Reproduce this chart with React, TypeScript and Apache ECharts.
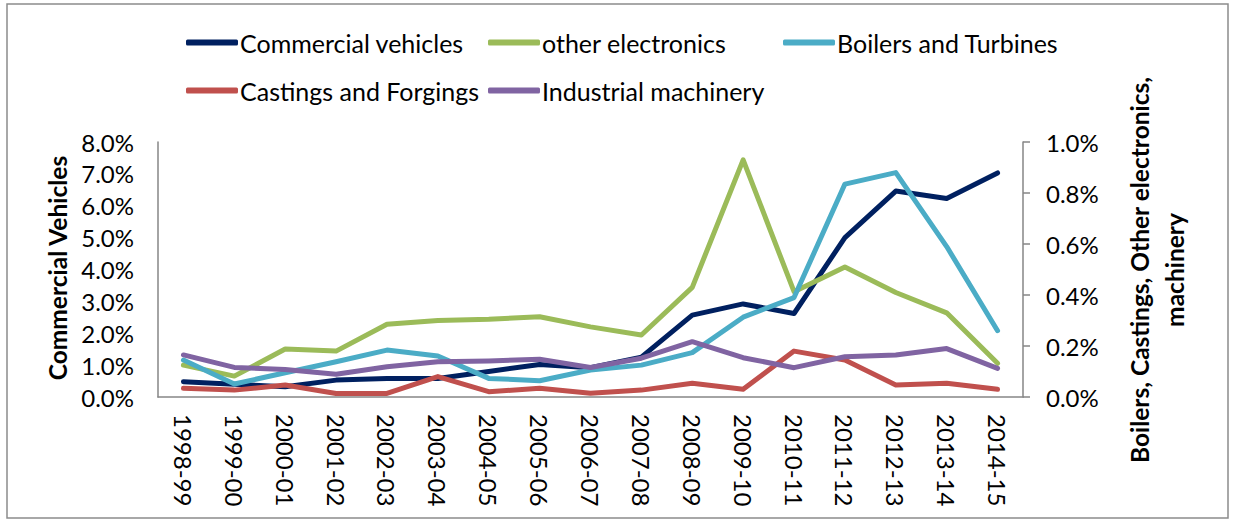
import React, { useEffect, useRef } from "react";
import * as echarts from "echarts";

const categories = [
  "1998-99", "1999-00", "2000-01", "2001-02", "2002-03", "2003-04", "2004-05", "2005-06",
  "2006-07", "2007-08", "2008-09", "2009-10", "2010-11", "2011-12", "2012-13", "2013-14", "2014-15",
];

// left axis (%)
const commercialVehicles = [0.48, 0.4, 0.32, 0.53, 0.58, 0.58, 0.8, 1.02, 0.92, 1.25, 2.57, 2.92, 2.62, 5.0, 6.46, 6.23, 7.03];
// right axis (%)
const otherElectronics = [0.125, 0.082, 0.188, 0.18, 0.285, 0.3, 0.305, 0.315, 0.275, 0.243, 0.43, 0.93, 0.413, 0.51, 0.41, 0.33, 0.132];
const boilersTurbines = [0.145, 0.051, 0.095, 0.138, 0.184, 0.161, 0.073, 0.064, 0.106, 0.125, 0.174, 0.313, 0.39, 0.835, 0.88, 0.59, 0.26];
const castingsForgings = [0.034, 0.027, 0.047, 0.014, 0.014, 0.08, 0.021, 0.034, 0.015, 0.027, 0.054, 0.03, 0.18, 0.145, 0.047, 0.054, 0.03];
const industrialMachinery = [0.165, 0.116, 0.108, 0.089, 0.119, 0.138, 0.141, 0.148, 0.116, 0.152, 0.217, 0.154, 0.115, 0.158, 0.165, 0.19, 0.112];

const leftTicks = { min: 0, max: 8, interval: 1 };
const rightTicks = { min: 0, max: 1, interval: 0.2 };

const FONT = "Lato";

export default function App() {
  const ref = useRef<HTMLDivElement>(null);
  useEffect(() => {
    if (!ref.current) return;
    const chart = echarts.init(ref.current, undefined, { renderer: "svg" });
    const mk = (name: string, data: number[], color: string, yAxisIndex: number) => ({
      name,
      type: "line",
      data,
      yAxisIndex,
      symbol: "none",
      lineStyle: { color, width: 5, cap: "round", join: "round" },
      itemStyle: { color },
    });
    const legendBase = {
      icon: "roundRect",
      itemWidth: 52,
      itemHeight: 6,
      itemGap: 0,
      textStyle: { fontFamily: FONT, fontSize: 25, color: "#000", padding: [0, 0, 0, -3] },
    };
    const nameStyle = {
      fontFamily: FONT,
      fontSize: 24.5,
      fontWeight: "bold",
      fill: "#000",
      textAlign: "center",
      textVerticalAlign: "middle",
    };
    chart.setOption({
      animation: false,
      textStyle: { fontFamily: FONT },
      grid: { left: 158, right: 211, top: 142, bottom: 124, containLabel: false },
      legend: [
        { ...legendBase, data: ["Commercial vehicles"], left: 181, top: 25 },
        { ...legendBase, data: ["other electronics"], left: 483, top: 25 },
        { ...legendBase, data: ["Boilers and Turbines"], left: 778, top: 25 },
        { ...legendBase, data: ["Castings and Forgings"], left: 181, top: 73 },
        { ...legendBase, data: ["Industrial machinery"], left: 483, top: 73 },
      ],
      xAxis: {
        type: "category",
        data: categories,
        boundaryGap: true,
        axisLine: { lineStyle: { color: "#868686", width: 1.5 } },
        axisTick: { show: false },
        axisLabel: { rotate: -90, margin: 17, fontSize: 24, color: "#000", fontFamily: FONT },
      },
      yAxis: [
        {
          type: "value",
          position: "left",
          ...leftTicks,
          splitLine: { show: false },
          axisLine: { show: true, lineStyle: { color: "#868686", width: 1.5 } },
          axisTick: { show: false },
          axisLabel: {
            margin: 24,
            fontSize: 24,
            color: "#000",
            fontFamily: FONT,
            formatter: (v: number) => `${v.toFixed(1)}%`,
          },
        },
        {
          type: "value",
          position: "right",
          ...rightTicks,
          splitLine: { show: false },
          axisLine: { show: true, lineStyle: { color: "#868686", width: 1.5 } },
          axisTick: { show: true, length: 7, lineStyle: { color: "#868686", width: 1.5 } },
          axisLabel: {
            margin: 23,
            fontSize: 24,
            color: "#000",
            fontFamily: FONT,
            formatter: (v: number) => `${v.toFixed(1)}%`,
          },
        },
      ],
      graphic: [
        {
          type: "rect",
          shape: { x: 7, y: 4, width: 1221, height: 514 },
          style: { fill: "none", stroke: "#8c8c8c", lineWidth: 1.5 },
          silent: true,
        },
        {
          type: "text",
          x: 57,
          y: 268,
          rotation: Math.PI / 2,
          style: { ...nameStyle, text: "Commercial Vehicles" },
        },
        {
          type: "text",
          x: 1139,
          y: 270,
          rotation: Math.PI / 2,
          style: { ...nameStyle, text: "Boilers, Castings, Other electronics," },
        },
        {
          type: "text",
          x: 1174,
          y: 270,
          rotation: Math.PI / 2,
          style: { ...nameStyle, text: "machinery" },
        },
      ],
      series: [
        mk("Commercial vehicles", commercialVehicles, "#002060", 0),
        mk("other electronics", otherElectronics, "#9BBB59", 1),
        mk("Boilers and Turbines", boilersTurbines, "#4BACC6", 1),
        mk("Castings and Forgings", castingsForgings, "#C0504D", 1),
        mk("Industrial machinery", industrialMachinery, "#8064A2", 1),
      ],
    });
    return () => chart.dispose();
  }, []);
  return (
    <div
      ref={ref}
      style={{ position: "fixed", left: 0, top: 0, width: 1234, height: 521, background: "#fff" }}
    />
  );
}
